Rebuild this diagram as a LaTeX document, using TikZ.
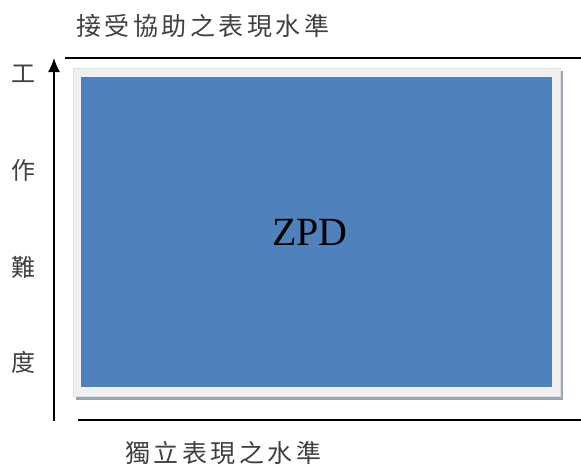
\documentclass[tikz,border=0pt]{standalone}
\usepackage{fontspec}
\usetikzlibrary{arrows.meta}
\setmainfont{Liberation Serif}
\newfontfamily\cjk[LetterSpace=14]{Noto Sans CJK TC}
\newfontfamily\cjkv{Noto Sans CJK TC}
\definecolor{zpdblue}{HTML}{4F81BD}
\definecolor{framegray}{HTML}{F0F0F0}
\definecolor{shadowgray}{HTML}{9AA6B6}
\tikzset{
  axisline/.style={line width=1.6pt, black},
  vlabel/.style={font=\cjkv\fontsize{24}{24}\selectfont, text=black!75, inner sep=0pt},
  hlabel/.style={font=\cjk\fontsize{25}{25}\selectfont, text=black!75, inner sep=0pt, anchor=west},
}
\begin{document}
\begin{tikzpicture}[x=1pt,y=-1pt]
\useasboundingbox (0,0) rectangle (581,467);
% shadow + frame
\fill[shadowgray] (76,71) rectangle (563,400);
\fill[framegray, draw=black!12] (73,68) rectangle (560,396);
\node[draw=none, fill=zpdblue, minimum width=471pt, minimum height=310pt, inner sep=0pt, anchor=north west] (zpd) at (81,77) {};
\node[font=\fontsize{40}{40}\selectfont] (zpdlabel) at (310,232) {ZPD};
% lines
\coordinate (tl) at (65,58);
\coordinate (tr) at (581,58);
\draw[axisline] (tl) -- (tr);
\coordinate (bl) at (78,420);
\coordinate (br) at (581,420);
\draw[axisline] (bl) -- (br);
\coordinate (ab) at (54,421);
\coordinate (at) at (54,58);
\draw[axisline, -{Latex[length=14pt,width=12pt]}] (ab) -- (at);
% labels
\node[hlabel] (top) at (76,26) {接受協助之表現水準};
\node[hlabel] (bottom) at (125,453) {獨立表現之水準};
\node[vlabel] (v1) at (23,74) {工};
\node[vlabel] (v2) at (23,170) {作};
\node[vlabel] (v3) at (23,267) {難};
\node[vlabel] (v4) at (23,362) {度};
\end{tikzpicture}
\end{document}
